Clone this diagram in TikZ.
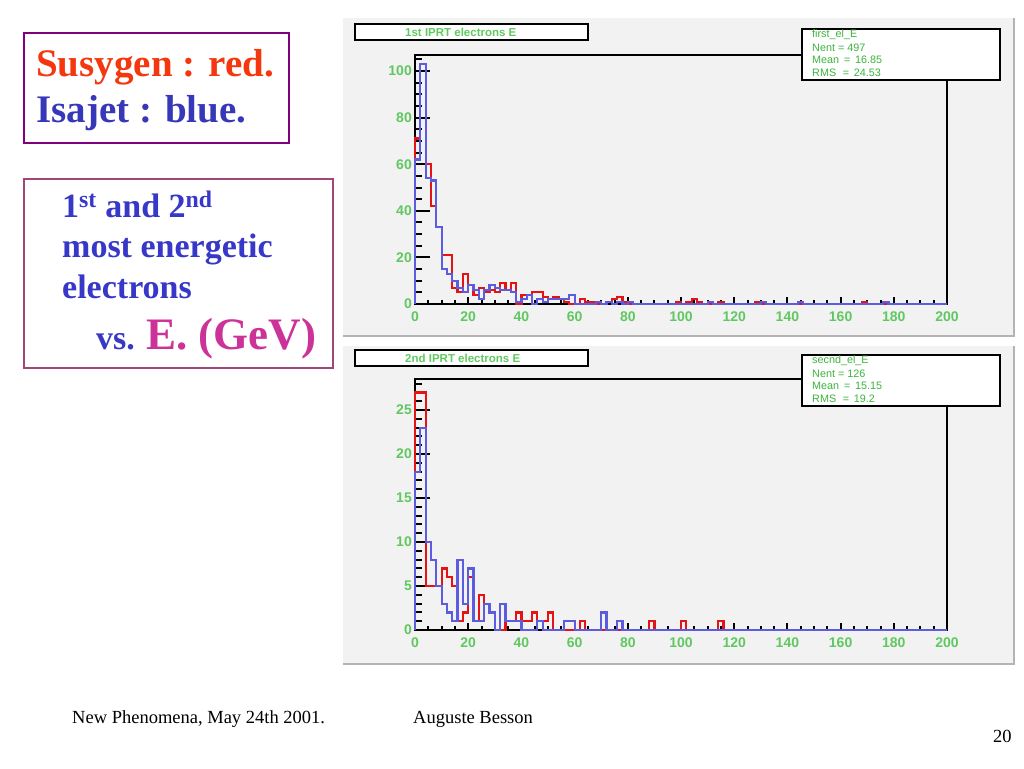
\documentclass[tikz,border=0pt]{standalone}
\usepackage{fontspec}
\setmainfont{Liberation Serif}
\newfontfamily\plotfont{Liberation Sans}

\definecolor{histred}{RGB}{228,20,20}
\definecolor{histblue}{RGB}{92,92,222}
\definecolor{rootgreen}{RGB}{96,200,96}
\definecolor{statgreen}{RGB}{60,180,60}
\definecolor{panelgray}{RGB}{242,242,242}
\definecolor{edgegray}{RGB}{180,180,180}
\definecolor{susyred}{RGB}{245,55,15}
\definecolor{isablue}{RGB}{55,55,185}
\definecolor{textblue}{RGB}{55,55,200}
\definecolor{gevmagenta}{RGB}{204,51,153}
\definecolor{boxpurple}{RGB}{128,0,128}
\definecolor{boxmauve}{RGB}{160,70,120}

\tikzset{
  legendbox/.style={draw=boxpurple, line width=2pt},
  infobox/.style={draw=boxmauve, line width=2pt},
  bigtext/.style={inner sep=0pt, font=\bfseries\fontsize{39}{46}\selectfont},
  infotext/.style={inner sep=0pt, text=textblue, font=\bfseries\fontsize{34}{40}\selectfont},
  foottext/.style={inner sep=0pt, font=\fontsize{18.5}{22}\selectfont},
  panel/.style={fill=panelgray},
  paneledge/.style={draw=edgegray, line width=2pt},
  framebox/.style={draw=black, fill=white, line width=2.2pt},
  titletext/.style={inner sep=0pt, text=rootgreen, font=\plotfont\bfseries\fontsize{11.5}{13}\selectfont},
  stattext/.style={inner sep=0pt, anchor=west, text=statgreen, font=\plotfont\fontsize{10.8}{12}\selectfont},
  axisline/.style={draw=black, line width=2pt},
  axlabel/.style={inner sep=0pt, text=rootgreen, font=\plotfont\bfseries\fontsize{14}{16}\selectfont},
  redhist/.style={draw=histred, line width=2.2pt},
  bluehist/.style={draw=histblue, line width=2.2pt}
}

\begin{document}
\begin{tikzpicture}[x=1pt,y=-1pt]
\useasboundingbox (0,0) rectangle (1024,768);
\fill[white] (0,0) rectangle (1024,768);

\draw[legendbox] (24,33) rectangle (289,143);
\node[bigtext, anchor=base west, text=susyred] (susy) at (36,77) {Susygen : red.};
\node[bigtext, anchor=base west, text=isablue] (isa) at (36,122) {Isajet : blue.};

\draw[infobox] (24,179) rectangle (333,368);
\node[infotext, anchor=base west] (rank) at (62,217) {1\textsuperscript{st} and 2\textsuperscript{nd}};
\node[infotext, anchor=base west] (most) at (62,257) {most energetic};
\node[infotext, anchor=base west] (elec) at (62,298) {electrons};
\node[infotext, anchor=base west] (versus) at (96,349) {vs. {\color{gevmagenta}\fontsize{45}{50}\selectfont E. (GeV)}};

\node[foottext, anchor=base west] (conf) at (72,723) {New Phenomena, May 24th 2001.};
\node[foottext, anchor=base west] (author) at (413,723) {Auguste Besson};
\node[foottext, anchor=base west] (page) at (993,742) {20};

\fill[panel] (343,18) rectangle (1014,336);
\draw[paneledge] (343,336) -- (1014,336) -- (1014,18);
\fill[panel] (343,346) rectangle (1014,664);
\draw[paneledge] (343,664) -- (1014,664) -- (1014,346);

\begin{scope}[shift={(415,304)}, x=2.66pt, y=2.33pt]
  \foreach \t in {0,5,...,105} \draw[axisline] (0,\t) -- ++(7pt,0);
  \foreach \t in {0,20,...,100} {
    \draw[axisline] (0,\t) -- ++(15pt,0);
    \node[axlabel, anchor=east, xshift=-3pt] (tyl\t) at (0,\t) {\t};
  }
  \foreach \t in {0,5,...,195} \draw[axisline] (\t,0) -- ++(0,4pt);
  \foreach \t in {0,20,...,200} {
    \draw[axisline] (\t,0) -- ++(0,7pt);
    \node[axlabel, yshift=-13pt] (txl\t) at (\t,0) {\t};
  }
  \draw[axisline] (0,0) rectangle (200,107);
  \draw[redhist] (0,0) \foreach \v [count=\k from 0] in {71,103,60,42,33,21,21,7,5,13,8,4,7,5,6,5,9,6,9,0,4,4,5,5,3,2,3,2,1,0,0,2,1,1,0,0,1,2,3,1,0,0,0,0,0,0,0,0,0,1,0,1,2,1,0,0,0,1,0,0,0,0,0,0,1,0,0,0,0,0,0,0,0,0,0,0,0,0,0,0,0,0,0,0,1,0} { -- ({2*\k},\v) -- ({2*\k+2},\v) } -- (200,0);
  \draw[bluehist] (0,0) \foreach \v [count=\k from 0] in {62,103,54,53,33,15,13,10,7,5,8,6,2,6,8,7,6,6,5,1,2,4,0,2,1,2,2,2,2,4,0,0,0,0,1,0,1,0,1,0,1,0,0,0,0,0,0,0,0,0,0,0,0,0,0,1,0,0,0,0,0,0,0,0,0,1,0,0,0,0,0,0,1,0,0,0,0,0,0,0,0,0,0,0,0,0,0,0,1,0} { -- ({2*\k},\v) -- ({2*\k+2},\v) } -- (200,0);
\end{scope}

\draw[framebox] (355,24) rectangle (588,40);
\node[titletext, anchor=west] (titleA) at (405,32) {1st IPRT electrons E};
\draw[framebox] (802,29) rectangle (1000,80);
\node[stattext] (nameA) at (812,35) {first\_el\_E};
\node[stattext] (nentA) at (812,47.5) {Nent = 497};
\node[stattext] (meanA) at (812,60) {Mean \,=\, 16.85};
\node[stattext] (rmsA) at (812,73) {RMS \,\,=\, 24.53};

\begin{scope}[shift={(415,630)}, x=2.66pt, y=8.8pt]
  \foreach \t in {0,1,...,28} \draw[axisline] (0,\t) -- ++(7pt,0);
  \foreach \t in {0,5,...,25} {
    \draw[axisline] (0,\t) -- ++(15pt,0);
    \node[axlabel, anchor=east, xshift=-3pt] (byl\t) at (0,\t) {\t};
  }
  \foreach \t in {0,5,...,195} \draw[axisline] (\t,0) -- ++(0,4pt);
  \foreach \t in {0,20,...,200} {
    \draw[axisline] (\t,0) -- ++(0,7pt);
    \node[axlabel, yshift=-13pt] (bxl\t) at (\t,0) {\t};
  }
  \draw[axisline] (0,0) rectangle (200,28.5);
  \draw[redhist] (0,0) \foreach \v [count=\k from 0] in {27,27,5,5,5,7,6,5,1,2,6,1,4,3,2,0,0,1,1,2,1,1,2,1,1,2,0,0,0,0,0,1,0,0,0,0,0,0,0,0,0,0,0,0,1,0,0,0,0,0,1,0,0,0,0,0,0,1,0} { -- ({2*\k},\v) -- ({2*\k+2},\v) } -- (200,0);
  \draw[bluehist] (0,0) \foreach \v [count=\k from 0] in {18,23,10,8,5,3,2,1,8,3,7,1,1,3,2,0,3,1,1,1,0,0,0,1,0,0,0,0,1,1,0,0,0,0,0,2,0,0,1,0} { -- ({2*\k},\v) -- ({2*\k+2},\v) } -- (200,0);
\end{scope}

\draw[framebox] (355,350) rectangle (588,366);
\node[titletext, anchor=west] (titleB) at (405,358) {2nd IPRT electrons E};
\draw[framebox] (802,355) rectangle (1000,406);
\node[stattext] (nameB) at (812,361) {secnd\_el\_E};
\node[stattext] (nentB) at (812,373.5) {Nent = 126};
\node[stattext] (meanB) at (812,386) {Mean \,=\, 15.15};
\node[stattext] (rmsB) at (812,399) {RMS \,\,=\, 19.2};
\end{tikzpicture}
\end{document}
